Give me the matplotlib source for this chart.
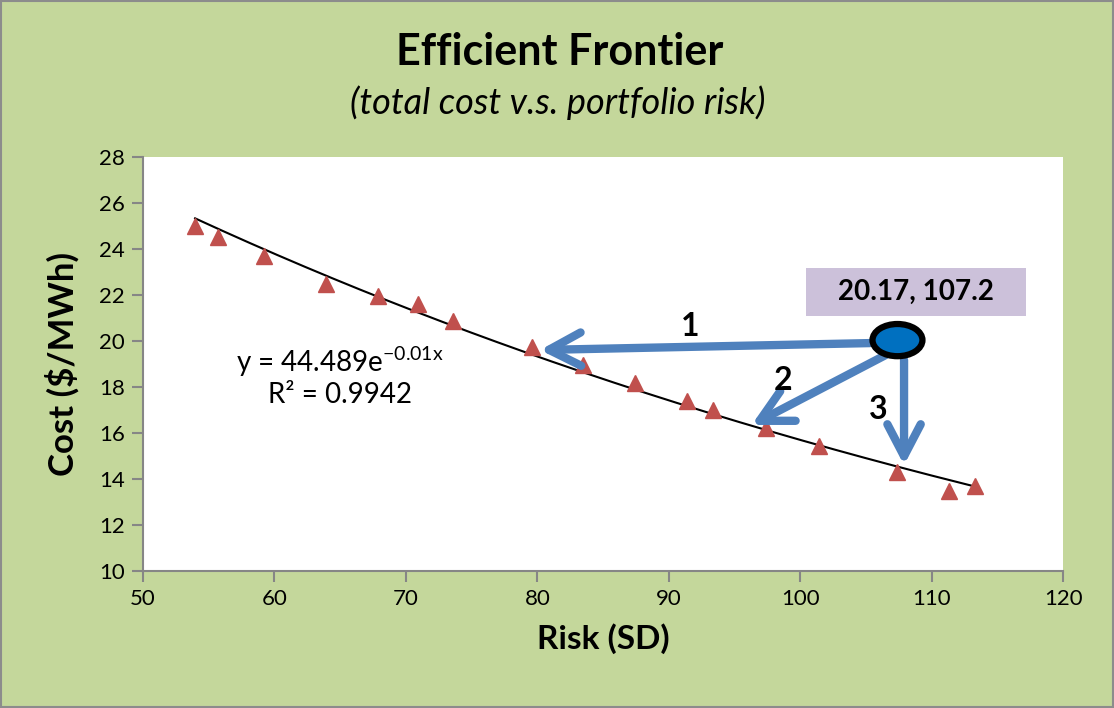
import numpy as np
import matplotlib
matplotlib.use("Agg")
import matplotlib.pyplot as plt
from matplotlib.patches import Ellipse, Rectangle

plt.rcParams['font.family'] = ['Lato', 'DejaVu Sans']

# Data
risk = [53.96, 55.7, 59.2, 63.9, 67.9, 70.9, 73.6, 79.6, 83.5, 87.4,
        91.4, 93.4, 97.4, 101.4, 107.4, 111.3, 113.3]
cost = [25.0, 24.52, 23.7, 22.5, 21.96, 21.6, 20.87, 19.74, 18.96, 18.17,
        17.4, 17.0, 16.2, 15.43, 14.3, 13.5, 13.7]
current_point = (107.4, 20.04)
current_label = "20.17, 107.2"
x_ticks = [50, 60, 70, 80, 90, 100, 110, 120]
y_ticks = [10, 12, 14, 16, 18, 20, 22, 24, 26, 28]

# Trendline (exponential fit from data)
b, ln_a = np.polyfit(risk, np.log(cost), 1)
xs = np.linspace(min(risk), max(risk), 200)
ys = np.exp(ln_a) * np.exp(b * xs)

fig = plt.figure(figsize=(11.14, 7.08), dpi=100)
fig.patch.set_facecolor('#C4D79B')
fig.patches.append(Rectangle((0.001, 0.001), 0.998, 0.997, transform=fig.transFigure,
                             fill=False, edgecolor='#8C8C8C', lw=1.5))

ax = fig.add_axes([0.1284, 0.1935, 0.8259, 0.5847])
ax.set_facecolor('white')
ax.plot(xs, ys, color='black', lw=1.5, zorder=2)
ax.plot(risk, cost, linestyle='none', marker='^', color='#C0504D', ms=11, zorder=3)

ax.set_xlim(50, 120)
ax.set_ylim(10, 28)
ax.set_xticks(x_ticks)
ax.set_yticks(y_ticks)
for s in ['top', 'right']:
    ax.spines[s].set_visible(False)
for s in ['left', 'bottom']:
    ax.spines[s].set_color('#868686')
    ax.spines[s].set_linewidth(1.5)
ax.tick_params(axis='both', direction='out', length=8, width=1.5, color='#868686',
               labelsize=16, pad=5)

ax.set_xlabel('Risk (SD)', fontsize=24, fontweight='bold', labelpad=10)
ax.set_ylabel('Cost ($/MWh)', fontsize=25, fontweight='bold', labelpad=14)

fig.text(0.502, 0.927, 'Efficient Frontier', ha='center', va='center',
         fontsize=31, fontweight='bold')
fig.text(0.501, 0.855, '(total cost v.s. portfolio risk)', ha='center', va='center',
         fontsize=26, style='italic')

# equation
ax.text(65.0, 19.1, r'y = 44.489e$^{\mathregular{-0.01x}}$', ha='center', va='center', fontsize=20)
ax.text(65.0, 17.65, 'R² = 0.9942', ha='center', va='center', fontsize=20)

# label box
ax.add_patch(Rectangle((100.45, 21.09), 16.75, 2.08, facecolor='#CCC1DA',
                       edgecolor='none', zorder=4))
ax.text(108.8, 22.13, current_label, ha='center', va='center', fontsize=20,
        fontweight='bold', zorder=5)

# arrows
arrow_col = '#4F81BD'
aprops = dict(arrowstyle='->, head_length=2.3, head_width=1.2', lw=6, mutation_scale=10,
              color=arrow_col, shrinkA=0, shrinkB=0, capstyle='round')
ax.annotate('', xy=(80.2, 19.61), xytext=(105.3, 19.91), arrowprops=aprops, zorder=5)
ax.annotate('', xy=(96.3, 16.35), xytext=(106.5, 19.39), arrowprops=aprops, zorder=5)
ax.annotate('', xy=(107.9, 14.6), xytext=(107.9, 19.17), arrowprops=aprops, zorder=5)

ax.add_patch(Ellipse(current_point, 3.8, 1.4, facecolor='#0070C0', edgecolor='black',
                     lw=4.5, zorder=6))

for t, (x, y) in zip(['1', '2', '3'], [(91.6, 20.65), (98.7, 18.3), (105.9, 17.04)]):
    ax.text(x, y, t, ha='center', va='center', fontsize=23, fontweight='bold', zorder=6)

fig.savefig('out.png', dpi=100, facecolor=fig.get_facecolor())
